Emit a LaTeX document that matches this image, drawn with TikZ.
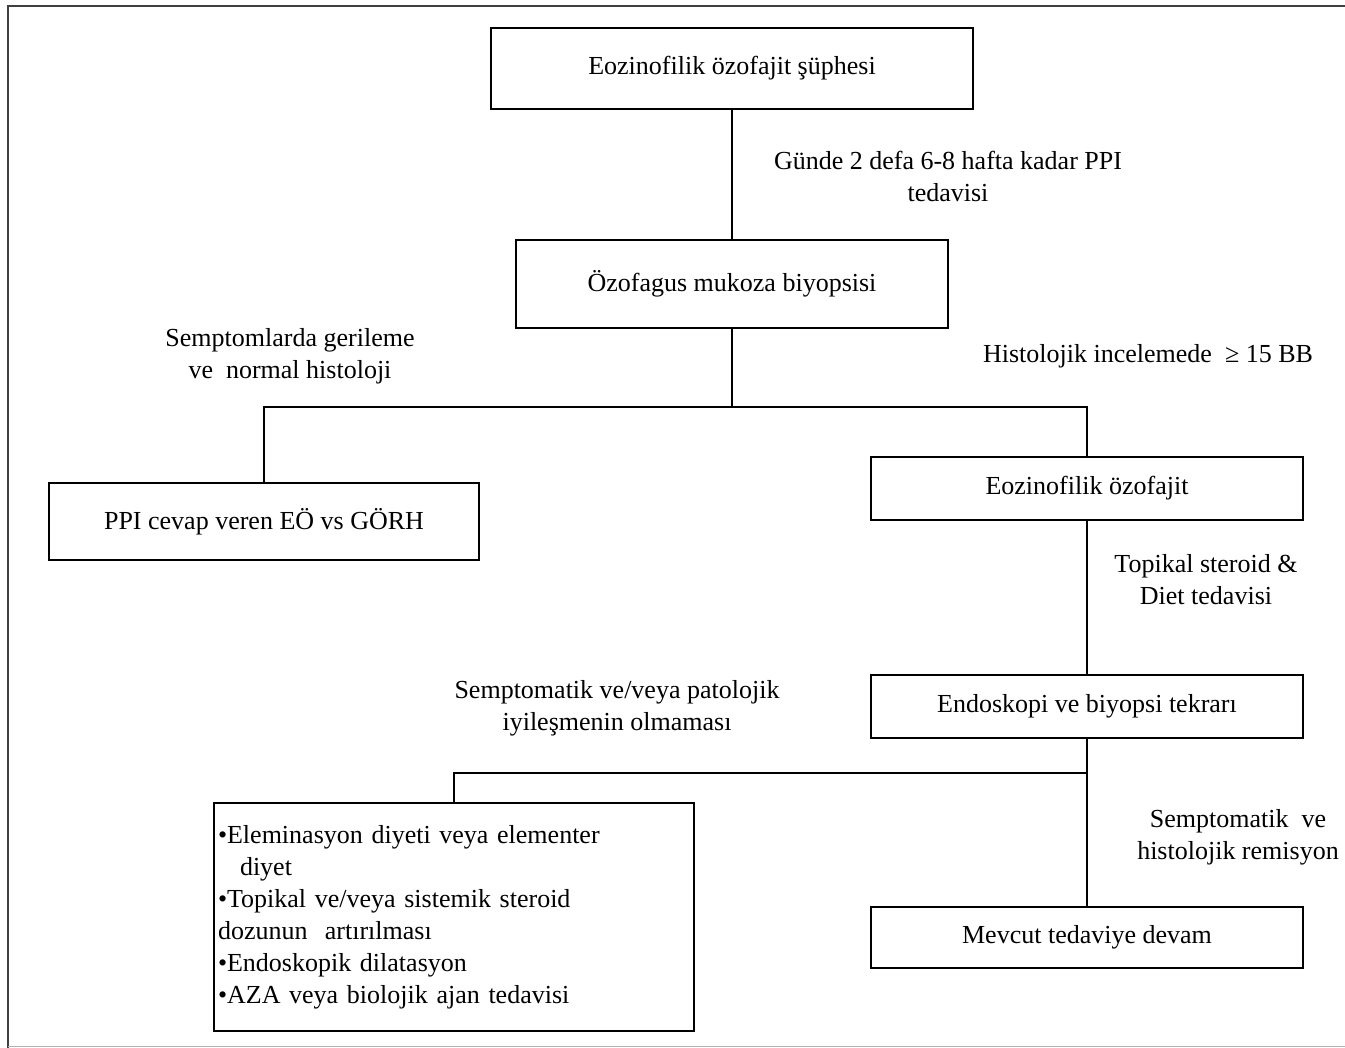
\documentclass[tikz,border=0pt]{standalone}
\usepackage{fontspec}
\setmainfont{Liberation Serif}
\begin{document}
\begin{tikzpicture}[x=1pt,y=-1pt,
  box/.style={draw=black, line width=1.4pt, rectangle, inner sep=0pt, align=center, font=\fontsize{26}{32}\selectfont},
  lab/.style={align=center, inner sep=0pt, font=\fontsize{26}{32}\selectfont},
  conn/.style={draw=black, line width=1.3pt}]
\useasboundingbox (0,0) rectangle (1345,1048);
% frame
\draw[line width=2pt, draw=black!75] (1345,6) -- (8,6) -- (8,1048);
\draw[line width=1pt, draw=black!30] (8,1046) -- (1345,1046);
% boxes
\node[box, minimum width=482, minimum height=81] (n1) at (732,68.5) {Eozinofilik özofajit şüphesi};
\node[box, minimum width=432, minimum height=88] (n2) at (732,284) {Özofagus mukoza biyopsisi};
\node[box, minimum width=430, minimum height=77] (n3) at (264,521.5) {PPI cevap veren EÖ vs GÖRH};
\node[box, minimum width=432, minimum height=63] (n4) at (1087,488.5) {Eozinofilik özofajit};
\node[box, minimum width=432, minimum height=63] (n5) at (1087,706.5) {Endoskopi ve biyopsi tekrarı};
\node[box, minimum width=432, minimum height=61] (n7) at (1087,937.5) {Mevcut tedaviye devam};
\node[box, minimum width=480, minimum height=228, text width=472, align=left] (n6) at (454,917)
  {•Eleminasyon diyeti veya elementer\\
   \hspace*{22pt}diyet\\
   •Topikal ve/veya sistemik steroid\\
   dozunun\ \ artırılması\\
   •Endoskopik dilatasyon\\
   •AZA veya biolojik ajan tedavisi};
% junctions
\coordinate (j1) at (732,407);
\coordinate (j2) at (1087,773);
% connectors
\draw[conn] (n1.south) -- (n2.north);
\draw[conn] (n2.south) -- (j1);
\draw[conn] (n3.north) |- (j1) -| (n4.north);
\draw[conn] (n4.south) -- (n5.north);
\draw[conn] (n5.south) -- (n7.north);
\draw[conn] (n6.north) |- (j2);
% labels
\node[lab] (l1) at (948,176) {Günde 2 defa 6-8 hafta kadar PPI\\tedavisi};
\node[lab] (l2) at (290,356) {Semptomlarda gerileme\\ve\ \ normal histoloji};
\node[lab] (l3) at (1148,356) {Histolojik incelemede\ \ ≥ 15 BB};
\node[lab] (l4) at (1206,580) {Topikal steroid \&\\Diet tedavisi};
\node[lab] (l5) at (617,708) {Semptomatik ve/veya patolojik\\iyileşmenin olmaması};
\node[lab] (l6) at (1238,837) {Semptomatik\ \ ve\\histolojik remisyon};
\end{tikzpicture}
\end{document}
